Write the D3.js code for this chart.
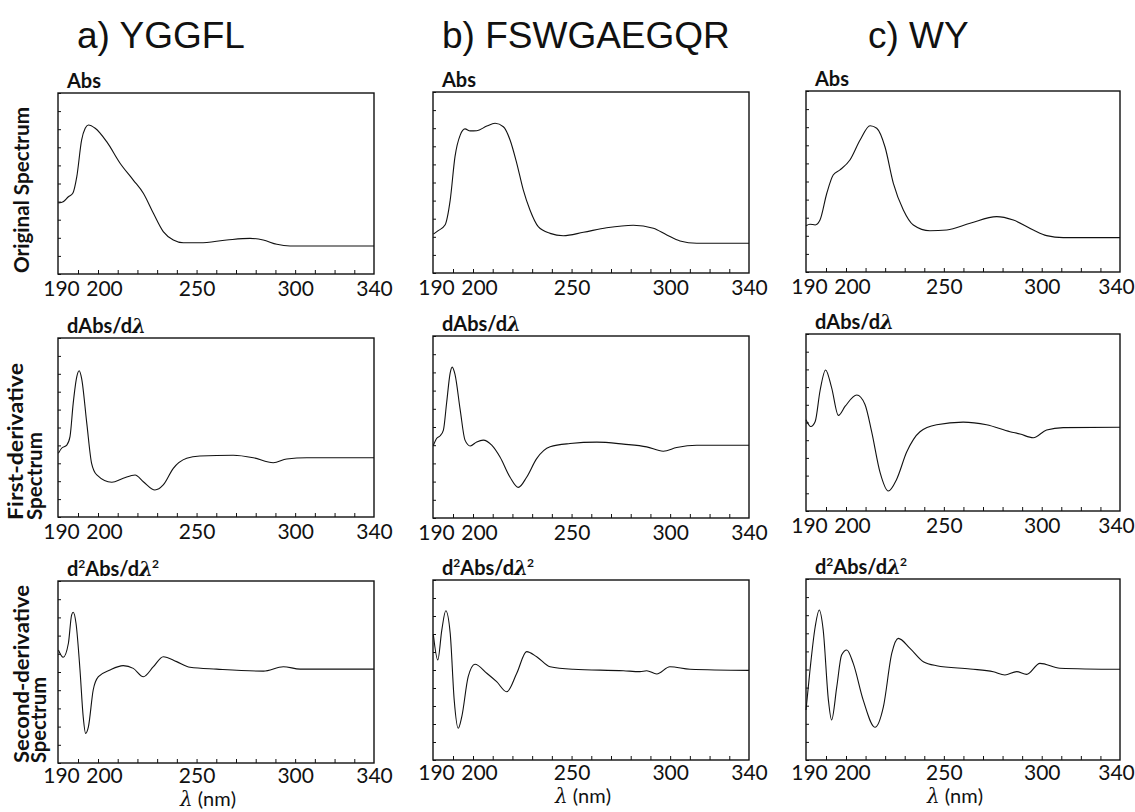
<!DOCTYPE html>
<html>
<head>
<meta charset="utf-8">
<script src="https://cdn.jsdelivr.net/npm/d3@7"></script>
<style>
  html, body { margin: 0; padding: 0; background: #fff; }
  svg { display: block; }
  .frame { fill: none; stroke: #111; stroke-width: 1.4; }
  .spectrum { fill: none; stroke: #111; stroke-width: 1.1; }
  .minor line { stroke: #111; stroke-width: 1; }
  .tick-labels text { font-family: Lato, sans-serif; font-size: 21px; fill: #111; }
  .col-title { font-family: "Liberation Sans", Arial, sans-serif; font-size: 37px; fill: #111; }
  .panel-label { font-family: Lato, sans-serif; font-weight: bold; font-size: 20px; fill: #111; }
  .row-title { font-family: Lato, sans-serif; font-weight: bold; font-size: 20px; fill: #111; }
  .x-title { font-family: Lato, sans-serif; font-size: 20px; fill: #111; }
  .lam { font-family: "DejaVu Serif", serif; font-style: italic; }
</style>
</head>
<body>
<svg id="chart" width="1135" height="812"></svg>
<script>
const COLUMN_TITLES = ["a) YGGFL", "b) FSWGAEGQR", "c) WY"];
const ROW_TITLES = [
  ["Original Spectrum"],
  ["First-derivative", "Spectrum"],
  ["Second-derivative", "Spectrum"]
];
const X_TICKS = [190, 200, 250, 300, 340];
const X_MINOR = [195, 200, 210, 220, 230, 240, 250, 260, 270, 280, 290, 300, 310, 320, 330];

// [wavelength nm, signal (arbitrary units, 0 = bottom of frame, 100 = top)]
const yggflAbs = [
  [190.1, 39.2], [191.3, 39.9], [192.6, 42.7], [193.7, 44.6], [194.7, 53.8], [195.9, 74.0],
  [196.8, 80.5], [197.6, 82.3], [199.3, 80.5], [204.4, 73.1], [211.2, 61.2], [217.9, 51.9],
  [223.0, 44.6], [228.1, 33.5], [233.1, 23.4], [238.2, 18.8], [243.3, 17.3], [251.7, 17.3],
  [265.3, 18.8], [277.1, 19.7], [283.8, 18.8], [290.7, 16.4], [297.4, 15.5], [340, 15.5]
];
const fswAbs = [
  [190.1, 21.5], [191.3, 23.4], [193.0, 26.5], [194.3, 40.3], [195.5, 64.3], [196.8, 76.2],
  [198.0, 79.6], [199.3, 78.5], [201.9, 78.6], [207.0, 81.2], [211.2, 82.7], [215.4, 80.8],
  [218.8, 73.5], [222.2, 60.6], [225.5, 45.9], [228.9, 34.8], [233.1, 25.6], [239.1, 21.9],
  [245.8, 20.6], [256.0, 22.5], [267.8, 25.0], [281.3, 26.4], [291.5, 24.7], [298.3, 21.0],
  [305.0, 17.7], [313.5, 16.4], [340, 16.4]
];
const wyAbs = [
  [190.0, 25.6], [191.0, 26.4], [192.3, 26.0], [193.5, 28.7], [195.2, 43.5], [196.8, 53.6],
  [198.5, 56.4], [202.0, 61.9], [207.2, 72.9], [212.3, 80.8], [215.7, 79.4], [219.9, 69.2],
  [224.2, 49.0], [229.3, 34.3], [234.4, 26.0], [242.9, 22.8], [251.5, 23.2], [263.4, 26.9],
  [277.0, 30.6], [285.5, 28.7], [295.7, 23.2], [302.5, 20.1], [311.0, 19.0], [340, 19.0]
];

const yggflD1 = [
  [190.1, 35.6], [190.9, 38.4], [192.2, 40.2], [193.0, 44.9], [193.8, 63.5], [194.7, 78.4],
  [195.3, 81.7], [195.9, 77.5], [197.2, 52.3], [198.4, 30.0], [199.7, 23.5], [207.0, 19.4],
  [212.8, 21.6], [218.8, 23.5], [223.0, 19.7], [228.9, 15.1], [233.1, 17.9], [238.2, 27.2],
  [245.0, 32.8], [251.7, 34.1], [268.6, 34.5], [278.8, 33.1], [288.9, 30.3], [295.7, 32.4],
  [305.9, 33.1], [340, 33.1]
];
const fswD1 = [
  [190.1, 40.0], [190.9, 43.7], [191.8, 45.2], [192.6, 48.3], [193.4, 63.2], [194.3, 79.8],
  [194.8, 82.9], [195.5, 78.9], [196.8, 59.4], [198.0, 42.8], [199.3, 39.6], [201.9, 41.8],
  [205.2, 42.8], [209.5, 40.0], [213.7, 33.5], [218.8, 22.4], [223.0, 16.8], [227.2, 22.4],
  [232.3, 32.6], [239.1, 39.1], [249.2, 40.9], [262.8, 41.7], [276.3, 40.6], [288.1, 39.1],
  [296.5, 36.7], [303.3, 38.7], [313.5, 40.0], [340, 40.0]
];
const wyD1 = [
  [190.0, 51.6], [191.2, 47.7], [192.3, 50.6], [193.5, 67.8], [194.9, 79.7], [196.4, 69.7],
  [198.1, 54.0], [199.8, 59.2], [205.5, 65.5], [209.7, 60.2], [213.1, 44.8], [217.4, 21.8],
  [221.6, 11.3], [225.9, 18.0], [231.0, 33.3], [237.8, 44.8], [246.3, 48.7], [259.9, 50.2],
  [271.8, 48.7], [283.8, 44.8], [288.9, 43.5], [295.7, 41.4], [302.5, 45.8], [311.0, 47.1],
  [340, 47.3]
];

const yggflD2 = [
  [190.1, 62.1], [191.3, 58.1], [192.6, 65.8], [193.4, 81.3], [193.8, 82.8], [194.5, 76.8],
  [195.5, 51.1], [196.3, 25.4], [196.9, 16.3], [197.6, 19.9], [198.8, 40.1], [200.2, 47.4],
  [206.1, 51.1], [212.8, 53.5], [217.9, 52.0], [223.0, 47.4], [228.1, 52.9], [233.1, 58.4],
  [239.9, 55.7], [246.7, 52.6], [260.2, 51.6], [283.9, 50.5], [294.0, 52.9], [302.5, 51.6],
  [340, 51.6]
];
const fswD2 = [
  [190.1, 69.4], [191.2, 55.6], [192.2, 72.2], [193.2, 82.9], [194.3, 70.4], [195.3, 33.3],
  [196.3, 17.6], [197.2, 24.1], [198.8, 46.3], [201.0, 53.2], [207.0, 48.2], [212.0, 43.5],
  [217.1, 37.9], [222.2, 48.2], [227.2, 60.2], [232.3, 57.4], [239.1, 51.8], [250.9, 50.4],
  [276.3, 49.6], [284.7, 49.1], [288.1, 49.6], [293.2, 47.8], [299.9, 51.8], [310.1, 50.4],
  [340, 49.8]
];
const wyD2 = [
  [190.0, 27.6], [191.0, 49.7], [192.3, 73.6], [193.3, 82.9], [194.3, 71.8], [195.6, 33.1],
  [196.4, 22.1], [197.7, 40.5], [198.9, 58.0], [200.4, 60.8], [203.7, 53.4], [208.8, 33.1],
  [214.8, 18.1], [219.1, 29.4], [223.4, 59.0], [226.7, 67.2], [232.7, 61.7], [239.5, 54.3],
  [246.3, 52.1], [263.4, 50.3], [275.3, 48.8], [281.2, 47.0], [287.2, 48.8], [292.3, 47.3],
  [299.1, 53.4], [309.3, 50.7], [340, 50.1]
];

const SERIES = [
  [yggflAbs, yggflD1, yggflD2],
  [fswAbs, fswD1, fswD2],
  [wyAbs, wyD1, wyD2]
];

// frame geometry per column (px)
const COL_LEFT = [58, 433, 806];
const COL_WIDTH = [316, 316, 314];
const ROW_TOP = [[93, 338, 581], [92, 336, 580], [91, 334, 579]];
const ROW_BOTTOM = [[274, 517, 763], [273, 518, 760], [272, 511, 760]];

const svg = d3.select("#chart");

COLUMN_TITLES.forEach((t, c) => {
  svg.append("text")
    .attr("class", "col-title")
    .attr("x", [77, 442, 868][c])
    .attr("y", 48)
    .text(t);
});

function panelLabel(sel, row) {
  if (row === 0) {
    sel.text("Abs");
    return;
  }
  if (row === 1) {
    sel.append("tspan").text("dAbs/d");
    sel.append("tspan").attr("class", "lam").text("λ");
    return;
  }
  sel.append("tspan").text("d");
  sel.append("tspan").attr("font-size", "12px").attr("dy", -8).text("2");
  sel.append("tspan").attr("dy", 8).text("Abs/d");
  sel.append("tspan").attr("class", "lam").text("λ");
  sel.append("tspan").attr("font-size", "12px").attr("dy", -8).attr("dx", -1).text("2");
}

for (let c = 0; c < 3; c++) {
  for (let r = 0; r < 3; r++) {
    const left = COL_LEFT[c];
    const w = COL_WIDTH[c];
    const top = ROW_TOP[c][r];
    const h = ROW_BOTTOM[c][r] - top;

    const x = d3.scaleLinear().domain([190, 200, 340]).range([0, 40, w]);
    const y = d3.scaleLinear().domain([0, 100]).range([h, 0]);

    const g = svg.append("g").attr("transform", `translate(${left},${top})`);

    g.append("g")
      .attr("class", "minor")
      .attr("transform", `translate(0,${h})`)
      .call(d3.axisBottom(x).tickValues(X_MINOR).tickSizeInner(-4).tickSizeOuter(0).tickFormat(""))
      .call(s => s.select(".domain").remove());

    g.append("g")
      .attr("class", "minor")
      .call(d3.axisRight(y).ticks(10).tickSize(3).tickFormat(""))
      .call(s => s.select(".domain").remove());

    g.append("g")
      .attr("class", "tick-labels")
      .attr("transform", `translate(0,${h})`)
      .call(d3.axisBottom(x).tickValues(X_TICKS).tickSize(0).tickPadding(r === 2 ? 5 : 7))
      .call(s => s.select(".domain").remove())
      .selectAll("text")
      .attr("dx", d => d === 190 ? 3 : d === 200 ? 6 : d === 340 && c === 2 ? -4 : 0);

    g.append("path")
      .datum(SERIES[c][r])
      .attr("class", "spectrum")
      .attr("d", d3.line()
        .x(d => x(d[0]))
        .y(d => y(d[1]))
        .curve(d3.curveMonotoneX));

    g.append("rect")
      .attr("class", "frame")
      .attr("width", w)
      .attr("height", h);

    g.append("text")
      .attr("class", "panel-label")
      .attr("x", 9)
      .attr("y", -5)
      .call(panelLabel, r);

    if (r === 2) {
      const xt = g.append("text")
        .attr("class", "x-title")
        .attr("x", w / 2 - 8)
        .attr("y", h + 43)
        .attr("text-anchor", "middle");
      xt.append("tspan").attr("class", "lam").text("λ");
      xt.append("tspan").text(" (nm)");
    }
  }
}

// rotated row titles on the left
const ROW_TITLE_X = [[29], [23, 42], [29, 46]];
const ROW_TITLE_Y = [273, 520, 763];
const ROW_TITLE_LEN = [[166], [157, 88], [178, 86]];
ROW_TITLES.forEach((lines, r) => {
  lines.forEach((line, i) => {
    svg.append("text")
      .attr("class", "row-title")
      .attr("transform", `translate(${ROW_TITLE_X[r][i]},${ROW_TITLE_Y[r]}) rotate(-90)`)
      .attr("textLength", ROW_TITLE_LEN[r][i])
      .attr("lengthAdjust", "spacingAndGlyphs")
      .text(line);
  });
});
</script>
</body>
</html>
